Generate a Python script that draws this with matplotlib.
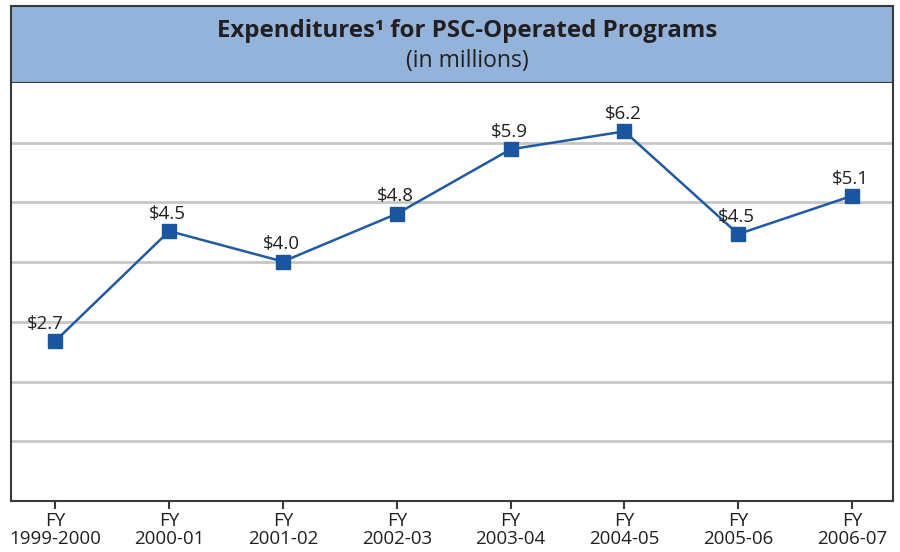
import matplotlib.pyplot as plt
from matplotlib.patches import Rectangle

years = ['FY\n1999-2000', 'FY\n2000-01', 'FY\n2001-02', 'FY\n2002-03',
         'FY\n2003-04', 'FY\n2004-05', 'FY\n2005-06', 'FY\n2006-07']
spending = [2.68, 4.52, 4.01, 4.81, 5.89, 6.19, 4.47, 5.11]
labels = ['$2.7', '$4.5', '$4.0', '$4.8', '$5.9', '$6.2', '$4.5', '$5.1']

LINE_COLOR = '#1f5aa3'
FRAME_COLOR = '#3a3a3a'
TEXT_COLOR = '#231f20'
plt.rcParams['font.family'] = ['Open Sans', 'DejaVu Sans']

fig = plt.figure(figsize=(9, 5.52), dpi=100)

# title box
tax = fig.add_axes([0.0122, 0.8496, 0.980, 0.1394])
tax.set_xlim(0, 1)
tax.set_ylim(0, 1)
tax.axis('off')
tax.add_patch(Rectangle((0, 0), 1, 1, facecolor='#93b3da',
                        edgecolor=FRAME_COLOR, linewidth=1.5,
                        transform=tax.transAxes, clip_on=False))
tax.text(0.517, 0.67, 'Expenditures\u00b9 for PSC-Operated Programs',
         ha='center', va='center', fontsize=17.3, fontweight='bold',
         color=TEXT_COLOR)
tax.text(0.517, 0.29, '(in millions)', ha='center', va='center',
         fontsize=16.5, color=TEXT_COLOR)

ax = fig.add_axes([0.0122, 0.0924, 0.980, 0.7572])
x = list(range(len(years)))
ax.plot(x, spending, color=LINE_COLOR, linewidth=1.8, marker='s',
        markersize=10, markerfacecolor='#1a55a0', markeredgecolor='#1a55a0',
        zorder=3)
for xi, yi, lab in zip(x, spending, labels):
    # first label sits left of the rising line
    dx = -7 if xi == 0 else -1
    ax.annotate(lab, (xi, yi), xytext=(dx, 6), textcoords='offset points',
                ha='center', va='bottom', fontsize=13.5, color=TEXT_COLOR)

ax.set_xlim(-0.39, 7.36)
ax.set_ylim(0, 7)
ax.set_yticks(range(1, 7))
ax.set_yticklabels([])
ax.tick_params(axis='y', length=0)
ax.grid(axis='y', color='#c6c6c6', linewidth=2)
ax.set_axisbelow(True)
ax.set_xticks(x)
ax.set_xticklabels(years, fontsize=13.5, color=TEXT_COLOR, linespacing=1.0)
ax.tick_params(axis='x', length=6, width=1.5, color=FRAME_COLOR, pad=2)
for side in ['left', 'bottom', 'right']:
    ax.spines[side].set_color(FRAME_COLOR)
    ax.spines[side].set_linewidth(1.5)
ax.spines['top'].set_visible(False)

fig.savefig('out.png', dpi=100)
